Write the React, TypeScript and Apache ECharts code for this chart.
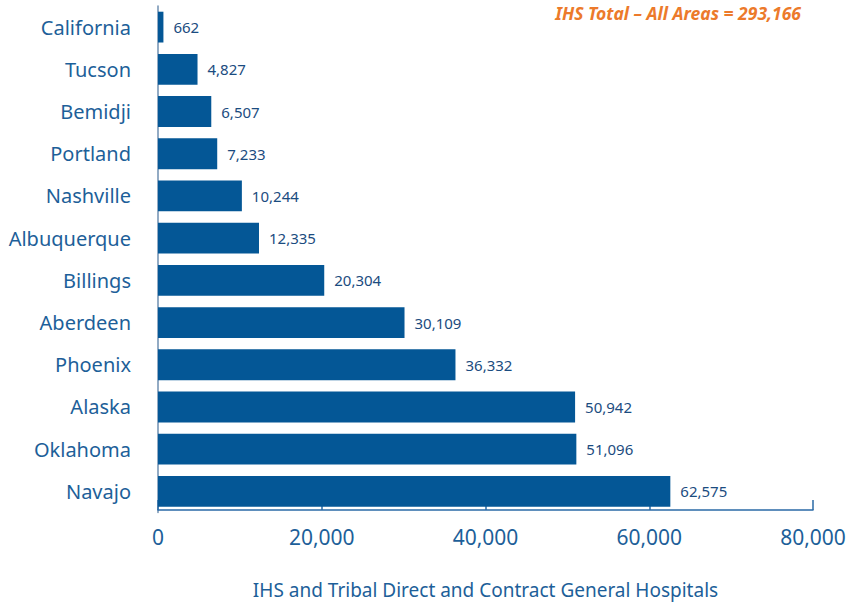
import React, { useEffect, useRef } from "react";
import * as echarts from "echarts";

const categories = ["California", "Tucson", "Bemidji", "Portland", "Nashville", "Albuquerque", "Billings", "Aberdeen", "Phoenix", "Alaska", "Oklahoma", "Navajo"];
const values = [662, 4827, 6507, 7233, 10244, 12335, 20304, 30109, 36332, 50942, 51096, 62575];
const xTicks = [0, 20000, 40000, 60000, 80000];
const totalLabel = "IHS Total \u2013 All Areas = 293,166";
const axisTitle = "IHS and Tribal Direct and Contract General Hospitals";

const FONT = "'Noto Sans', 'Open Sans', sans-serif";
const BLUE = "#045796";
const TEXT = "#1d5f99";

export default function App() {
  const ref = useRef<HTMLDivElement>(null);
  useEffect(() => {
    const chart = echarts.init(ref.current!, undefined, { renderer: "svg" });
    chart.setOption({
      animation: false,
      grid: { left: 158, right: 39, top: 6, bottom: 87, containLabel: false },
      graphic: [
        {
          type: "text",
          right: 51,
          top: 4,
          style: {
            text: totalLabel,
            fill: "#ec7a2b",
            font: `italic bold 17.5px ${FONT}`,
          },
        },
      ],
      xAxis: {
        type: "value",
        min: xTicks[0],
        max: xTicks[xTicks.length - 1],
        interval: 20000,
        offset: -2.5,
        axisLine: { show: true, lineStyle: { color: "#2a6aa6", width: 1.5 } },
        axisTick: { show: true, inside: true, length: 10, lineStyle: { color: "#2a6aa6", width: 1.5 } },
        splitLine: { show: false },
        axisLabel: {
          color: TEXT,
          fontFamily: FONT,
          fontSize: 21,
          margin: 16,
          formatter: (v: number) => v.toLocaleString("en-US"),
        },
        name: axisTitle,
        nameLocation: "middle",
        nameGap: 70,
        nameTextStyle: { color: TEXT, fontFamily: FONT, fontSize: 19 },
      },
      yAxis: {
        type: "category",
        data: categories,
        inverse: true,
        axisLine: { show: true, lineStyle: { color: "#6f8fb0", width: 1.5 } },
        axisTick: { show: false },
        axisLabel: {
          color: TEXT,
          fontFamily: FONT,
          fontSize: 20,
          margin: 27,
          padding: [0, 0, 4, 0],
        },
      },
      series: [
        {
          type: "bar",
          data: values,
          barCategoryGap: "27%",
          itemStyle: { color: BLUE },
          label: {
            show: true,
            position: "right",
            distance: 10,
            color: "#1b4c80",
            fontFamily: FONT,
            fontSize: 15,
            padding: [0, 0, 4, 0],
            formatter: (p: any) => Number(p.value).toLocaleString("en-US"),
          },
        },
      ],
    });
    return () => chart.dispose();
  }, []);
  return <div ref={ref} style={{ width: 852, height: 604, position: "absolute", left: 0, top: 0 }} />;
}
